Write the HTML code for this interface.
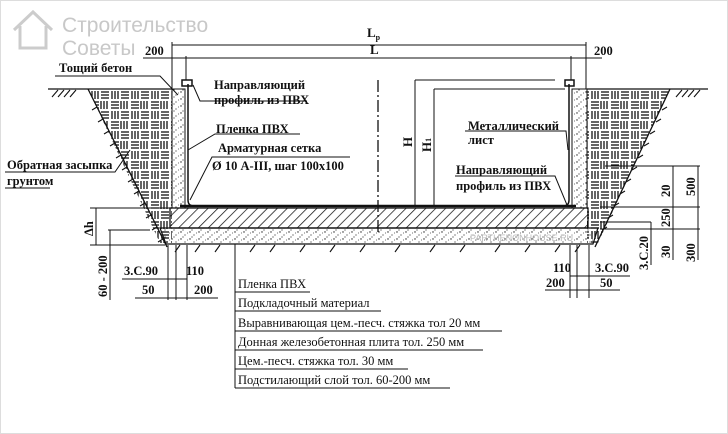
<!DOCTYPE html>
<html><head><meta charset="utf-8"><style>
html,body{margin:0;padding:0;background:#fff;}
svg{display:block;}
text{font-family:"Liberation Serif","DejaVu Serif",serif;font-weight:bold;fill:#111;}
</style></head><body>
<svg width="728" height="434" viewBox="0 0 728 434" xmlns="http://www.w3.org/2000/svg">
<defs>
<pattern id="diag" width="7" height="7" patternUnits="userSpaceOnUse" patternTransform="rotate(45)">
<line x1="0" y1="0" x2="0" y2="7" stroke="#111" stroke-width="1.5"/></pattern>
<pattern id="dots" width="9" height="7" patternUnits="userSpaceOnUse">
<circle cx="1" cy="1" r="0.7" fill="#222"/><circle cx="5" cy="4" r="0.6" fill="#333"/><circle cx="7.5" cy="2" r="0.5" fill="#444"/><circle cx="3" cy="6" r="0.6" fill="#333"/></pattern>
<pattern id="weave" width="20" height="20" patternUnits="userSpaceOnUse">
<g stroke="#111" stroke-width="1.3">
<line x1="1" y1="1" x2="1" y2="9"/><line x1="4" y1="1" x2="4" y2="9"/><line x1="7" y1="1" x2="7" y2="9"/>
<line x1="11" y1="2" x2="19" y2="2"/><line x1="11" y1="5" x2="19" y2="5"/><line x1="11" y1="8" x2="19" y2="8"/>
<line x1="1" y1="12" x2="9" y2="12"/><line x1="1" y1="15" x2="9" y2="15"/><line x1="1" y1="18" x2="9" y2="18"/>
<line x1="12" y1="11" x2="12" y2="19"/><line x1="15" y1="11" x2="15" y2="19"/><line x1="18" y1="11" x2="18" y2="19"/>
</g></pattern>
</defs>
<rect x="0" y="0" width="728" height="434" fill="#fff"/>
<rect x="0.5" y="0.5" width="727" height="433" fill="none" stroke="#ddd"/>
<g fill="none" stroke="#ccc" stroke-width="3"><path d="M14 30 L33 12 L52 30 M20 26 V48 H46 V26"/></g>
<text x="62" y="32" font-size="21" style="font-weight:normal;fill:#c8c8c8;font-family:'Liberation Sans',sans-serif">Строительство</text>
<text x="62" y="55" font-size="21" style="font-weight:normal;fill:#c8c8c8;font-family:'Liberation Sans',sans-serif">Советы</text>

<polygon points="88,89 172,89 172,243 160,243" fill="url(#weave)"/>
<polygon points="587,89 670,89 598,243 587,243" fill="url(#weave)"/>
<rect x="172" y="89" width="13" height="119" fill="url(#dots)" stroke="#111" stroke-width="1"/>
<rect x="572" y="89" width="15" height="119" fill="url(#dots)" stroke="#111" stroke-width="1"/>
<rect x="170" y="208" width="418" height="20" fill="url(#diag)" stroke="#111" stroke-width="1.3"/>
<polygon points="160,228 598,228 593,244 166,244" fill="url(#dots)" stroke="#111" stroke-width="1.2"/>
<line x1="180" y1="206" x2="576" y2="206" stroke="#111" stroke-width="2.5"/>
<g stroke="#111" stroke-width="1.3">
<line x1="48" y1="89" x2="172" y2="89"/><line x1="587" y1="89" x2="708" y2="89"/>
<line x1="88" y1="89" x2="167" y2="247"/><line x1="670" y1="89" x2="595" y2="247"/>
</g>
<g stroke="#111" stroke-width="1.1">
<path d="M52 97 l6 -7 M58 97 l6 -7 M64 97 l6 -7 M70 97 l6 -7 M676 97 l6 -7 M682 97 l6 -7 M688 97 l6 -7 M694 97 l6 -7"/>
<path d="M92 110 l5 -3 M98 122 l5 -3 M104 134 l5 -3 M110 146 l5 -3 M116 158 l5 -3 M122 170 l5 -3 M128 182 l5 -3 M134 194 l5 -3 M140 206 l5 -3 M146 218 l5 -3 M152 230 l5 -3 M158 242 l5 -3"/>
<path d="M662 110 l5 -3 M656 122 l5 -3 M650 134 l5 -3 M644 146 l5 -3 M638 158 l5 -3 M632 170 l5 -3 M626 182 l5 -3 M620 194 l5 -3 M614 206 l5 -3 M608 218 l5 -3 M602 230 l5 -3"/>
<path d="M175 252 l5 -7 M195 252 l5 -7 M215 252 l5 -7 M250 252 l5 -7 M270 252 l5 -7 M300 252 l5 -7 M330 252 l5 -7 M360 252 l5 -7 M395 252 l5 -7 M430 252 l5 -7 M460 252 l5 -7 M495 252 l5 -7 M525 252 l5 -7 M555 252 l5 -7 M575 252 l5 -7"/>
</g>
<g fill="none" stroke="#111" stroke-width="1.5">
<path d="M188 84 V200 Q188 206 194 206"/>
<path d="M569 84 V200 Q569 206 563 206"/>
<rect x="182" y="80" width="10" height="6"/><rect x="565" y="80" width="9" height="6"/>
</g>
<g stroke="#111" stroke-width="1" fill="none">
<line x1="172" y1="45" x2="586" y2="45"/><line x1="172" y1="42" x2="172" y2="89"/><line x1="586" y1="42" x2="586" y2="89"/>
<line x1="143" y1="58" x2="602" y2="58"/><line x1="186" y1="56" x2="186" y2="80"/><line x1="571" y1="56" x2="571" y2="80"/>
<line x1="378" y1="80" x2="378" y2="235" stroke-dasharray="12,3,2,3" stroke-width="1.3"/>
<line x1="415" y1="80" x2="555" y2="80"/><line x1="415" y1="80" x2="415" y2="206"/>
<line x1="434" y1="89" x2="565" y2="89"/><line x1="434" y1="89" x2="434" y2="206"/>
<polyline points="55,76 160,76 178,95"/>
<polyline points="193,85 200,101 307,101"/>
<polyline points="188,150 215,134 300,134"/>
<polyline points="190,200 212,157 350,157"/>
<polyline points="5,172 115,172 130,150"/>
<polyline points="5,188 50,188"/>
<polyline points="465,131 566,131 568,150"/>
<polyline points="455,176 555,176 567,205"/>
<line x1="673" y1="166" x2="673" y2="260"/><line x1="698" y1="166" x2="698" y2="260"/>
<line x1="605" y1="166" x2="700" y2="166"/><line x1="600" y1="207" x2="700" y2="207"/><line x1="600" y1="229" x2="700" y2="229"/>
<line x1="600" y1="222" x2="651" y2="222"/><line x1="651" y1="222" x2="651" y2="265"/>
<line x1="96" y1="208" x2="96" y2="245"/><line x1="90" y1="208" x2="170" y2="208"/><line x1="90" y1="245" x2="165" y2="245"/>
<line x1="110" y1="230" x2="110" y2="300"/><line x1="108" y1="230" x2="150" y2="230"/>
<line x1="168" y1="245" x2="168" y2="300"/><line x1="176" y1="245" x2="176" y2="300"/><line x1="187" y1="245" x2="187" y2="300"/>
<line x1="122" y1="279" x2="187" y2="279"/><line x1="135" y1="298" x2="218" y2="298"/>
<line x1="570" y1="245" x2="570" y2="298"/><line x1="577" y1="245" x2="577" y2="298"/><line x1="589" y1="245" x2="589" y2="298"/>
<line x1="570" y1="276" x2="630" y2="276"/><line x1="545" y1="290" x2="620" y2="290"/>
<line x1="235" y1="244" x2="235" y2="388"/>
<line x1="235" y1="292" x2="310" y2="292"/>
<line x1="235" y1="311" x2="381" y2="311"/>
<line x1="235" y1="331" x2="502" y2="331"/>
<line x1="235" y1="350" x2="483" y2="350"/>
<line x1="235" y1="369" x2="408" y2="369"/>
<line x1="235" y1="388" x2="450" y2="388"/>
</g>
<g font-size="12.5">
<text x="367" y="37" font-size="13">L<tspan font-size="8" dy="3">p</tspan></text>
<text x="370" y="54" font-size="13">L</text>
<text x="145" y="55">200</text><text x="594" y="55">200</text>
<text x="59" y="72">Тощий бетон</text>
<text x="214" y="89">Направляющий</text><text x="214" y="104">профиль из ПВХ</text>
<text x="216" y="133">Пленка ПВХ</text>
<text x="218" y="152">Арматурная сетка</text>
<text x="212" y="170">Ø 10 А-III, шаг 100х100</text>
<text x="7" y="169">Обратная засыпка</text><text x="7" y="185">грунтом</text>
<text x="468" y="130">Металлический</text><text x="468" y="144">лист</text>
<text x="456" y="174">Направляющий</text><text x="456" y="190">профиль из ПВХ</text>
<text transform="translate(412,147) rotate(-90)" font-size="13">H</text>
<text transform="translate(431,152) rotate(-90)" font-size="13">H<tspan font-size="8">1</tspan></text>
<text transform="translate(670,197) rotate(-90)">20</text>
<text transform="translate(695,196) rotate(-90)">500</text>
<text transform="translate(670,227) rotate(-90)">250</text>
<text transform="translate(670,258) rotate(-90)">30</text>
<text transform="translate(695,262) rotate(-90)">300</text>
<text transform="translate(648,270) rotate(-90)">3.C.20</text>
<text transform="translate(93,236) rotate(-90)">Δh</text>
<text transform="translate(107,297) rotate(-90)">60 - 200</text>
<text x="124" y="275">3.C.90</text><text x="186" y="275">110</text>
<text x="142" y="294">50</text><text x="194" y="294">200</text>
<text x="553" y="272">110</text><text x="595" y="272">3.C.90</text>
<text x="546" y="287">200</text><text x="600" y="287">50</text>
<text x="238" y="288" style="font-weight:normal">Пленка ПВХ</text>
<text x="238" y="307" style="font-weight:normal">Подкладочный материал</text>
<text x="238" y="327" style="font-weight:normal">Выравнивающая цем.-песч. стяжка тол 20 мм</text>
<text x="238" y="346" style="font-weight:normal">Донная железобетонная плита тол. 250 мм</text>
<text x="238" y="365" style="font-weight:normal">Цем.-песч. стяжка тол. 30 мм</text>
<text x="238" y="384" style="font-weight:normal">Подстилающий слой тол. 60-200 мм</text>
</g>
<text x="470" y="241" font-size="9" style="fill:#bbb;font-weight:normal;font-family:'Liberation Sans',sans-serif">PARTHENONHOUSE.RU</text>
</svg>
</body></html>
